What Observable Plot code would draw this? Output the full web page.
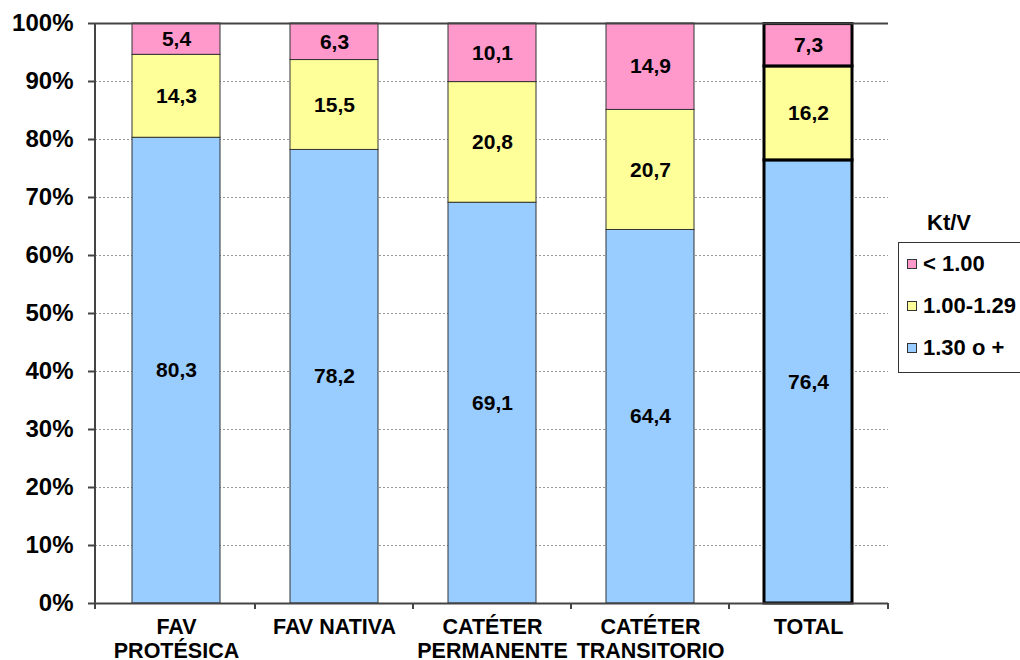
<!DOCTYPE html>
<html>
<head>
<meta charset="utf-8">
<script src="https://cdn.jsdelivr.net/npm/d3@7"></script>
<script src="https://cdn.jsdelivr.net/npm/@observablehq/plot@0.6"></script>
<style>
  html, body { margin: 0; padding: 0; background: #fff; }
  #wrap { position: relative; width: 1020px; height: 660px; overflow: hidden; font-family: "Liberation Sans", Arial, sans-serif; font-weight: bold; }
  #legend-title { position: absolute; left: 927px; top: 210px; font-size: 22px; color: #000; }
  #legend { position: absolute; left: 898px; top: 242px; width: 140px; height: 131px; border: 1px solid #333; box-sizing: border-box; }
  .item { position: absolute; left: 8px; font-size: 22px; color: #000; display: flex; align-items: center; white-space: nowrap; }
  .sw { width: 10px; height: 10px; border: 1px solid #333; margin-right: 6px; box-sizing: border-box; }
</style>
</head>
<body>
<div id="wrap">
  <div id="chart"></div>
  <div id="legend-title">Kt/V</div>
  <div id="legend"></div>
</div>
<script>
const categories = ["FAV\nPROTÉSICA", "FAV NATIVA", "CATÉTER\nPERMANENTE", "CATÉTER\nTRANSITORIO", "TOTAL"];
const seriesNames = ["1.30 o +", "1.00-1.29", "< 1.00"];
const seriesColors = ["#99CCFF", "#FFFF99", "#FF99CC"];
const valuesHigh = [80.3, 78.2, 69.1, 64.4, 76.4];   // 1.30 o +
const valuesMid  = [14.3, 15.5, 20.8, 20.7, 16.2];   // 1.00-1.29
const valuesLow  = [5.4, 6.3, 10.1, 14.9, 7.3];      // < 1.00
const yTicks = [0, 10, 20, 30, 40, 50, 60, 70, 80, 90, 100];

const seriesValues = [valuesHigh, valuesMid, valuesLow];
const rows = [];
categories.forEach((c, i) => {
  seriesNames.forEach((s, j) => rows.push({cat: c, k: s, value: seriesValues[j][i]}));
});
const fmt = v => v.toFixed(1).replace(".", ",");

const plot = Plot.plot({
  width: 1020,
  height: 660,
  marginLeft: 95,
  marginRight: 132,
  marginTop: 23,
  marginBottom: 57,
  style: {fontFamily: '"Liberation Sans", Arial, sans-serif', fontWeight: "bold", color: "#000", background: "#fff", overflow: "visible"},
  x: {domain: categories, paddingInner: 0.445, paddingOuter: 0.2225, label: null},
  y: {domain: [0, 100], label: null},
  color: {domain: seriesNames, range: seriesColors},
  marks: [
    Plot.gridY(yTicks.filter(d => d > 0 && d < 100), {stroke: "#999", strokeOpacity: 1, strokeDasharray: "2,2"}),
    Plot.barY(rows.filter(d => d.cat !== "TOTAL"), {x: "cat", y: "value", fill: "k", stroke: "#333", strokeWidth: 1}),
    Plot.barY(rows.filter(d => d.cat === "TOTAL"), {x: "cat", y: "value", fill: "k", stroke: "#000", strokeWidth: 3}),
    Plot.ruleY([100], {stroke: "#444", strokeWidth: 2}),
    Plot.ruleY([0], {stroke: "#444", strokeWidth: 2}),
    Plot.text(rows, Plot.stackY({x: "cat", y: "value", text: d => fmt(d.value), fontSize: 21, fontWeight: "bold", fill: "#000"})),
    Plot.axisY(yTicks, {tickFormat: d => d + "%", tickSize: 7, tickPadding: 15, fontSize: 24, fontWeight: "bold", stroke: "#444", strokeWidth: 2, fill: "#000"}),
    Plot.axisX({tickSize: 0, tickPadding: 14, fontSize: 21.5, fontWeight: "bold", lineHeight: 1.1, fill: "#000", textAnchor: "middle", lineAnchor: "top"})
  ]
});
document.getElementById("chart").appendChild(plot);

// left axis line and category boundary ticks, positioned from the plot's own x scale
const xs = plot.scale("x");
const svg = d3.select(plot);
const y0 = 660 - 57, yTop = 23;
const left = 95, right = 1020 - 132;
svg.append("line").attr("x1", left).attr("x2", left).attr("y1", yTop).attr("y2", y0 + 6)
  .attr("stroke", "#444").attr("stroke-width", 2);
const gap = (xs.step - xs.bandwidth) / 2;
const bounds = categories.slice(1).map(c => xs.apply(c) - gap);
bounds.push(right);
svg.selectAll(null).data(bounds).join("line")
  .attr("x1", d => d).attr("x2", d => d).attr("y1", y0).attr("y2", y0 + 6)
  .attr("stroke", "#444").attr("stroke-width", 2);

// legend
const legend = document.getElementById("legend");
const order = [2, 1, 0];
const tops = [8, 50, 92];
order.forEach((j, i) => {
  const it = document.createElement("div");
  it.className = "item";
  it.style.top = tops[i] + "px";
  const sw = document.createElement("div");
  sw.className = "sw";
  sw.style.background = seriesColors[j];
  it.appendChild(sw);
  it.appendChild(document.createTextNode(seriesNames[j]));
  legend.appendChild(it);
});
</script>
</body>
</html>
